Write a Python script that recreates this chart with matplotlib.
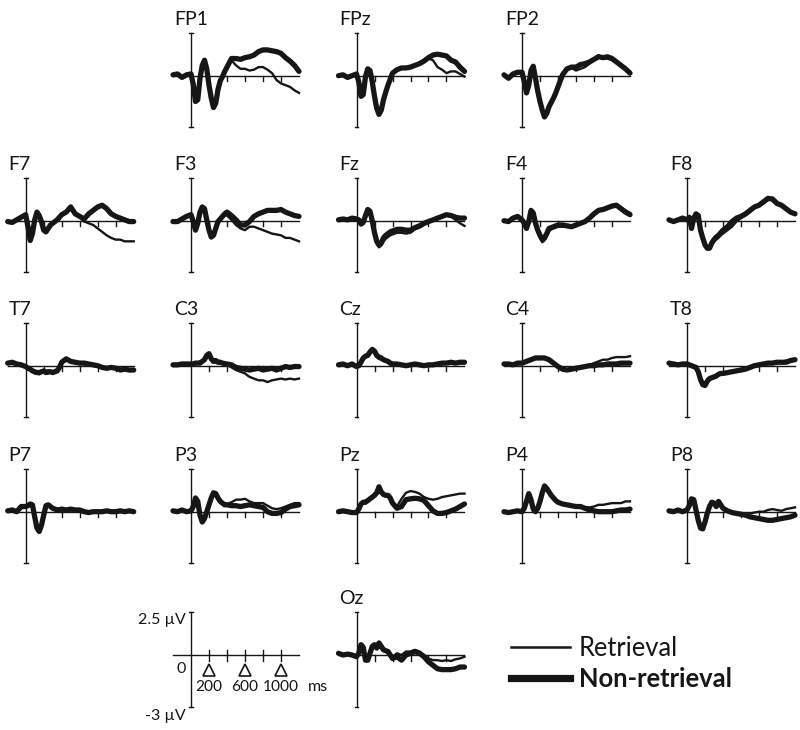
import matplotlib
matplotlib.use("Agg")
import matplotlib.pyplot as plt
from matplotlib.lines import Line2D

plt.rcParams['font.family'] = ['Lato', 'DejaVu Sans']

# ---------------- data ----------------
times = [-200, -150, -100, -50, 0, 25, 50, 75, 100, 125, 150, 175, 200, 225, 250, 275,
         300, 325, 350, 375, 400, 450, 500, 550, 600, 650, 700, 750, 800, 850, 900,
         950, 1000, 1050, 1100, 1150, 1200]

channels = ['FP1', 'FPz', 'FP2', 'F7', 'F3', 'Fz', 'F4', 'F8',
            'T7', 'C3', 'Cz', 'C4', 'T8', 'P7', 'P3', 'Pz', 'P4', 'P8', 'Oz']

FP1_ret = [0.05, 0.1, -0.1, 0.05, 0.1, -0.5, -1.5, -1.35, -0.1, 0.6, 0.85, 0.4, -0.5, -1.25, -1.8, -1.55,
           -0.8, -0.3, -0.05, 0.25, 0.5, 0.9, 0.6, 0.4, 0.4, 0.3, 0.35, 0.5, 0.5, 0.35, 0.15,
           -0.25, -0.45, -0.55, -0.65, -0.85, -1.0]
FP1_non = [0.05, 0.1, -0.1, 0.05, 0.1, -0.5, -1.5, -1.4, -0.15, 0.6, 0.9, 0.4, -0.55, -1.3, -1.85, -1.6,
           -0.8, -0.3, -0.05, 0.25, 0.5, 1.0, 1.0, 0.95, 1.05, 1.1, 1.2, 1.4, 1.5, 1.5, 1.45,
           1.4, 1.3, 1.05, 0.85, 0.6, 0.25]
FPz_ret = [0.0, 0.05, -0.1, 0.0, 0.1, -0.35, -1.15, -1.05, -0.05, 0.4, 0.3, -0.35, -1.15, -1.85, -2.2, -1.95,
           -1.4, -0.95, -0.55, -0.2, 0.15, 0.35, 0.45, 0.45, 0.5, 0.6, 0.7, 0.85, 1.0, 0.9, 0.5,
           0.35, 0.15, 0.25, 0.25, 0.1, -0.05]
FPz_non = [0.0, 0.05, -0.1, 0.0, 0.1, -0.35, -1.2, -1.1, -0.05, 0.4, 0.3, -0.35, -1.2, -1.9, -2.25, -2.0,
           -1.4, -0.95, -0.55, -0.2, 0.15, 0.35, 0.45, 0.45, 0.5, 0.6, 0.7, 0.85, 1.05, 1.2, 1.25,
           1.2, 1.15, 0.9, 0.8, 0.5, 0.25]
FP2_ret = [0.05, -0.15, 0.1, 0.2, 0.2, -0.35, -1.0, -0.55, 0.3, 0.55, -0.15, -0.9, -1.5, -2.0, -2.35, -2.2,
           -1.8, -1.55, -1.3, -1.0, -0.65, 0.05, 0.4, 0.45, 0.3, 0.4, 0.5, 0.7, 1.0, 1.2, 1.0,
           1.0, 0.9, 0.85, 0.65, 0.45, 0.2]
FP2_non = [0.05, -0.15, 0.1, 0.2, 0.2, -0.35, -1.0, -0.55, 0.3, 0.55, -0.15, -0.9, -1.5, -2.0, -2.4, -2.2,
           -1.8, -1.55, -1.3, -1.0, -0.65, 0.05, 0.4, 0.5, 0.5, 0.65, 0.7, 0.8, 0.95, 1.1, 1.05,
           1.1, 1.0, 0.8, 0.6, 0.4, 0.15]
F7_ret = [-0.05, -0.1, 0.05, 0.2, 0.35, -0.35, -1.1, -0.75, 0.05, 0.5, 0.3, -0.05, -0.55, -0.65, -0.45, -0.25,
          -0.15, -0.05, 0.05, 0.2, 0.35, 0.5, 0.75, 0.4, 0.25, -0.05, -0.15, -0.25, -0.45, -0.65, -0.85,
          -1.0, -1.1, -1.1, -1.2, -1.2, -1.2]
F7_non = [-0.05, -0.1, 0.05, 0.2, 0.35, -0.35, -1.15, -0.75, 0.05, 0.5, 0.3, -0.05, -0.55, -0.65, -0.45, -0.25,
          -0.15, -0.05, 0.05, 0.2, 0.35, 0.5, 0.8, 0.4, 0.25, 0.1, 0.4, 0.6, 0.8, 0.9, 0.7,
          0.4, 0.25, 0.15, 0.05, -0.05, -0.05]
F3_ret = [-0.05, -0.05, 0.1, 0.25, 0.35, -0.05, -0.55, -0.15, 0.5, 0.8, 0.7, 0.05, -0.55, -0.95, -0.85, -0.45,
          -0.05, 0.1, 0.2, 0.3, 0.3, 0.05, -0.25, -0.45, -0.55, -0.35, -0.35, -0.45, -0.55, -0.65, -0.75,
          -0.8, -0.85, -1.0, -1.0, -1.1, -1.2]
F3_non = [-0.05, -0.05, 0.1, 0.25, 0.35, -0.05, -0.55, -0.15, 0.5, 0.8, 0.7, 0.05, -0.55, -0.95, -0.85, -0.45,
          -0.05, 0.1, 0.25, 0.4, 0.5, 0.3, 0.05, -0.25, -0.25, -0.05, 0.25, 0.4, 0.5, 0.6, 0.6,
          0.6, 0.65, 0.5, 0.4, 0.3, 0.25]
Fz_ret = [0.05, 0.1, 0.05, 0.15, 0.1, 0.05, -0.2, -0.1, 0.3, 0.65, 0.55, 0.0, -0.75, -1.35, -1.55, -1.45,
          -1.2, -1.05, -0.95, -0.85, -0.8, -0.7, -0.7, -0.75, -0.7, -0.5, -0.4, -0.25, -0.1, 0.0, 0.1,
          0.2, 0.3, 0.25, 0.05, -0.15, -0.3]
Fz_non = [0.05, 0.1, 0.05, 0.15, 0.1, 0.05, -0.2, -0.1, 0.3, 0.65, 0.55, 0.0, -0.7, -1.2, -1.4, -1.3,
          -1.0, -0.85, -0.75, -0.65, -0.6, -0.5, -0.5, -0.55, -0.55, -0.4, -0.3, -0.15, -0.05, 0.05, 0.15,
          0.25, 0.35, 0.3, 0.2, 0.15, 0.15]
F4_ret = [0.0, -0.05, 0.15, 0.25, 0.05, -0.15, -0.45, -0.05, 0.6, 0.45, -0.15, -0.6, -0.95, -1.25, -1.15, -0.9,
          -0.6, -0.5, -0.45, -0.4, -0.35, -0.35, -0.35, -0.4, -0.3, -0.2, -0.1, 0.1, 0.35, 0.55, 0.6,
          0.7, 0.8, 0.85, 0.75, 0.6, 0.45]
F4_non = [0.0, -0.05, 0.15, 0.25, 0.05, -0.15, -0.45, -0.05, 0.6, 0.45, -0.15, -0.55, -0.85, -1.1, -1.0, -0.75,
          -0.45, -0.4, -0.35, -0.3, -0.25, -0.25, -0.3, -0.35, -0.25, -0.15, -0.05, 0.15, 0.4, 0.6, 0.65,
          0.75, 0.85, 0.9, 0.7, 0.5, 0.35]
F8_ret = [0.05, -0.05, 0.05, 0.15, 0.05, 0.2, -0.45, 0.15, 0.4, 0.3, -0.55, -1.0, -1.45, -1.65, -1.65, -1.4,
          -1.2, -1.1, -1.0, -0.85, -0.75, -0.55, -0.35, -0.05, 0.15, 0.3, 0.5, 0.75, 0.9, 1.0, 1.2,
          1.35, 1.1, 0.85, 0.75, 0.55, 0.35]
F8_non = [0.05, -0.05, 0.05, 0.15, 0.05, 0.2, -0.45, 0.15, 0.4, 0.3, -0.55, -1.0, -1.4, -1.6, -1.6, -1.3,
          -1.1, -0.95, -0.85, -0.7, -0.55, -0.35, -0.05, 0.15, 0.25, 0.4, 0.6, 0.8, 0.9, 1.1, 1.3,
          1.25, 1.0, 0.9, 0.7, 0.5, 0.4]
T7_ret = [0.15, 0.2, 0.1, 0.05, -0.05, -0.2, -0.25, -0.35, -0.45, -0.45, -0.5, -0.4, -0.4, -0.45, -0.45, -0.4,
          -0.45, -0.4, -0.35, -0.15, 0.15, 0.3, 0.25, 0.15, 0.1, 0.15, 0.05, 0.0, -0.05, -0.1, -0.2,
          -0.15, -0.2, -0.25, -0.25, -0.3, -0.3]
T7_non = [0.15, 0.2, 0.1, 0.05, -0.05, -0.15, -0.2, -0.3, -0.35, -0.4, -0.4, -0.35, -0.3, -0.4, -0.35, -0.35,
          -0.4, -0.35, -0.3, -0.1, 0.2, 0.4, 0.25, 0.2, 0.15, 0.15, 0.1, 0.05, 0.0, -0.1, -0.15,
          -0.1, -0.15, -0.25, -0.2, -0.25, -0.25]
C3_ret = [0.05, 0.05, 0.1, 0.1, 0.1, 0.1, 0.15, 0.15, 0.15, 0.2, 0.3, 0.5, 0.6, 0.35, 0.25, 0.25,
          0.2, 0.15, 0.15, 0.1, 0.05, -0.1, -0.25, -0.35, -0.45, -0.65, -0.75, -0.85, -0.85, -0.95, -0.85,
          -0.8, -0.75, -0.8, -0.75, -0.8, -0.75]
C3_non = [0.05, 0.05, 0.1, 0.1, 0.1, 0.1, 0.15, 0.15, 0.15, 0.25, 0.35, 0.6, 0.7, 0.4, 0.25, 0.3,
          0.2, 0.2, 0.15, 0.12, 0.1, 0.05, -0.1, -0.15, -0.2, -0.25, -0.2, -0.15, -0.25, -0.2, -0.15,
          -0.25, -0.15, -0.05, -0.1, -0.05, -0.05]
Cz_ret = [0.05, 0.1, 0.0, 0.1, -0.05, 0.0, 0.15, 0.4, 0.5, 0.55, 0.7, 0.85, 0.75, 0.5, 0.4, 0.35,
          0.3, 0.25, 0.2, 0.1, 0.05, 0.05, 0.0, 0.0, 0.0, 0.05, 0.05, 0.0, 0.0, 0.05, 0.1,
          0.1, 0.15, 0.15, 0.15, 0.2, 0.2]
Cz_non = [0.05, 0.1, 0.0, 0.1, -0.05, 0.0, 0.2, 0.45, 0.55, 0.6, 0.8, 0.95, 0.85, 0.6, 0.5, 0.45,
          0.35, 0.3, 0.25, 0.15, 0.1, 0.1, 0.05, 0.0, 0.05, 0.1, 0.05, 0.0, 0.05, 0.05, 0.1,
          0.15, 0.15, 0.2, 0.15, 0.2, 0.2]
C4_ret = [0.1, 0.1, 0.05, 0.15, 0.15, 0.2, 0.25, 0.3, 0.35, 0.4, 0.4, 0.45, 0.45, 0.4, 0.4, 0.35,
          0.3, 0.2, 0.1, 0.0, -0.1, -0.25, -0.3, -0.25, -0.2, -0.1, 0.0, 0.05, 0.15, 0.25, 0.35,
          0.35, 0.45, 0.5, 0.5, 0.5, 0.55]
C4_non = [0.1, 0.1, 0.05, 0.15, 0.15, 0.2, 0.25, 0.3, 0.35, 0.4, 0.45, 0.45, 0.45, 0.45, 0.45, 0.4,
          0.35, 0.25, 0.15, 0.05, -0.05, -0.2, -0.25, -0.2, -0.15, -0.1, -0.05, 0.0, 0.0, 0.05, 0.05,
          0.1, 0.1, 0.1, 0.15, 0.15, 0.15]
T8_ret = [0.15, 0.1, 0.05, 0.1, 0.1, 0.05, 0.0, -0.05, -0.1, -0.35, -0.75, -1.05, -1.1, -0.9, -0.8, -0.75,
          -0.7, -0.65, -0.55, -0.5, -0.5, -0.45, -0.4, -0.35, -0.3, -0.25, -0.15, -0.05, 0.0, 0.1, 0.15,
          0.15, 0.25, 0.2, 0.3, 0.3, 0.35]
T8_non = [0.15, 0.1, 0.05, 0.1, 0.1, 0.05, 0.0, -0.05, -0.1, -0.35, -0.8, -1.1, -1.15, -0.9, -0.75, -0.7,
          -0.65, -0.6, -0.5, -0.45, -0.45, -0.4, -0.35, -0.3, -0.25, -0.2, -0.1, 0.0, 0.05, 0.1, 0.15,
          0.15, 0.2, 0.2, 0.2, 0.3, 0.35]
P7_ret = [0.05, 0.1, 0.0, 0.3, 0.3, 0.35, 0.45, 0.35, -0.3, -0.9, -1.1, -0.75, -0.2, 0.3, 0.4, 0.3,
          0.25, 0.15, 0.1, 0.1, 0.15, 0.1, 0.1, 0.05, 0.05, 0.0, 0.0, -0.05, 0.0, 0.05, 0.0,
          0.0, -0.05, 0.0, 0.05, 0.0, 0.05]
P7_non = [0.05, 0.1, 0.0, 0.3, 0.3, 0.35, 0.45, 0.4, -0.3, -0.95, -1.15, -0.8, -0.2, 0.35, 0.4, 0.3,
          0.2, 0.15, 0.1, 0.12, 0.15, 0.1, 0.15, 0.1, 0.1, 0.0, -0.05, 0.0, 0.0, 0.0, 0.05,
          0.0, 0.0, 0.05, 0.0, 0.05, 0.0]
P3_ret = [0.05, 0.0, 0.1, 0.0, 0.05, 0.3, 0.75, 0.6, -0.2, -0.55, -0.35, 0.0, 0.4, 0.75, 1.05, 1.0,
          0.8, 0.6, 0.5, 0.45, 0.45, 0.55, 0.7, 0.7, 0.75, 0.6, 0.5, 0.5, 0.5, 0.35, 0.2,
          0.15, 0.2, 0.3, 0.4, 0.5, 0.5]
P3_non = [0.05, 0.0, 0.1, 0.0, 0.05, 0.3, 0.8, 0.6, -0.2, -0.6, -0.4, 0.0, 0.4, 0.8, 1.1, 1.05,
          0.8, 0.6, 0.5, 0.4, 0.4, 0.35, 0.35, 0.3, 0.35, 0.4, 0.35, 0.3, 0.25, 0.0, -0.1,
          -0.1, -0.05, 0.15, 0.3, 0.35, 0.4]
Pz_ret = [0.0, 0.05, 0.0, -0.05, -0.05, 0.15, 0.4, 0.5, 0.5, 0.6, 0.7, 0.8, 0.9, 1.05, 1.4, 1.1,
          0.95, 0.9, 0.9, 0.75, 0.55, 0.3, 0.75, 1.1, 1.2, 1.15, 1.05, 0.85, 0.75, 0.7, 0.75,
          0.85, 0.9, 0.95, 1.0, 1.05, 1.05]
Pz_non = [0.0, 0.05, 0.0, -0.05, -0.05, 0.15, 0.45, 0.55, 0.55, 0.65, 0.75, 0.85, 0.95, 1.1, 1.45, 1.15,
          1.0, 0.95, 0.95, 0.8, 0.5, 0.2, 0.3, 0.7, 0.75, 0.78, 0.75, 0.65, 0.35, 0.05, -0.1,
          -0.1, -0.05, 0.05, 0.15, 0.3, 0.45]
P4_ret = [0.0, -0.05, 0.0, 0.05, 0.0, 0.2, 0.6, 1.0, 0.7, 0.15, 0.0, 0.2, 0.6, 1.05, 1.45, 1.3,
          1.1, 0.9, 0.75, 0.65, 0.55, 0.45, 0.4, 0.35, 0.3, 0.3, 0.25, 0.25, 0.3, 0.4, 0.4,
          0.45, 0.5, 0.5, 0.5, 0.6, 0.6]
P4_non = [0.0, -0.05, 0.0, 0.05, 0.0, 0.2, 0.6, 1.05, 0.7, 0.15, 0.0, 0.2, 0.6, 1.1, 1.5, 1.35,
          1.15, 0.95, 0.8, 0.65, 0.55, 0.45, 0.4, 0.35, 0.3, 0.3, 0.2, 0.1, 0.05, 0.0, 0.0,
          0.0, 0.0, 0.05, 0.1, 0.1, 0.15]
P8_ret = [0.05, 0.0, 0.1, 0.0, 0.1, 0.35, 0.75, 0.65, 0.1, -0.45, -0.9, -0.95, -0.6, -0.1, 0.3, 0.5,
          0.45, 0.3, 0.55, 0.4, 0.2, 0.1, 0.0, -0.05, -0.1, -0.1, -0.1, -0.05, 0.0, 0.0, 0.1,
          0.15, 0.1, 0.05, 0.15, 0.2, 0.25]
P8_non = [0.05, 0.0, 0.1, 0.0, 0.1, 0.35, 0.75, 0.7, 0.1, -0.5, -0.95, -1.0, -0.6, -0.1, 0.3, 0.55,
          0.5, 0.3, 0.6, 0.4, 0.2, 0.05, -0.05, -0.1, -0.15, -0.2, -0.3, -0.35, -0.4, -0.45, -0.5,
          -0.5, -0.45, -0.4, -0.35, -0.3, -0.2]
Oz_ret = [0.1, 0.0, 0.05, 0.0, -0.1, 0.1, 0.6, 0.4, -0.25, -0.3, 0.1, 0.45, 0.55, 0.4, 0.65, 0.5,
          0.3, 0.2, 0.1, 0.0, -0.1, 0.1, 0.0, 0.2, 0.2, 0.3, 0.2, 0.0, -0.2, -0.3, -0.3,
          -0.35, -0.3, -0.35, -0.25, -0.2, -0.1]
Oz_non = [0.1, 0.0, 0.05, 0.0, -0.1, 0.1, 0.6, 0.45, -0.3, -0.3, 0.1, 0.5, 0.6, 0.4, 0.7, 0.5,
          0.3, 0.25, 0.2, 0.0, -0.2, -0.1, -0.3, 0.0, 0.1, 0.2, 0.1, -0.1, -0.4, -0.6, -0.8,
          -0.85, -0.85, -0.85, -0.8, -0.7, -0.7]

retrieval = [FP1_ret, FPz_ret, FP2_ret, F7_ret, F3_ret, Fz_ret, F4_ret, F8_ret,
             T7_ret, C3_ret, Cz_ret, C4_ret, T8_ret, P7_ret, P3_ret, Pz_ret, P4_ret, P8_ret, Oz_ret]
nonretrieval = [FP1_non, FPz_non, FP2_non, F7_non, F3_non, Fz_non, F4_non, F8_non,
                T7_non, C3_non, Cz_non, C4_non, T8_non, P7_non, P3_non, Pz_non, P4_non, P8_non, Oz_non]

axis_ticks = [200, 400, 600, 800, 1000]
scale_labels = [200, 600, 1000]
legend_labels = ['Retrieval', 'Non-retrieval']

# ---------------- layout ----------------
W, H = 800, 730
PX_MS, PX_UV = 0.09, 17.2
T0, T1 = -200, 1200
V0, V1 = -3.0, 2.5
col_x = [25.7, 191, 356.5, 522, 687]
row_y = [75.7, 220.7, 365.7, 511.7, 655]
cells = [(0, 1), (0, 2), (0, 3), (1, 0), (1, 1), (1, 2), (1, 3), (1, 4),
         (2, 0), (2, 1), (2, 2), (2, 3), (2, 4), (3, 0), (3, 1), (3, 2), (3, 3), (3, 4), (4, 2)]
INK = '#161616'

fig = plt.figure(figsize=(W / 100, H / 100), dpi=100)


def make_axes(r, c):
    x0, y0 = col_x[c], row_y[r]
    left = (x0 + T0 * PX_MS) / W
    width = (T1 - T0) * PX_MS / W
    bottom = (H - (y0 - V0 * PX_UV)) / H
    height = (V1 - V0) * PX_UV / H
    ax = fig.add_axes([left, bottom, width, height])
    ax.set_xlim(T0, T1)
    ax.set_ylim(V0, V1)
    ax.axis('off')
    return ax


def draw_frame(ax, both_sides):
    ax.plot([T0, T1], [0, 0], color=INK, lw=1.0, clip_on=False, zorder=1)
    ax.plot([0, 0], [V0, V1], color=INK, lw=1.0, clip_on=False, zorder=1)
    for yv in (V0, V1):
        ax.plot([-22, 22], [yv, yv], color=INK, lw=1.0, clip_on=False)
    top = 0.3 if both_sides else 0.0
    for t in axis_ticks:
        ax.plot([t, t], [-0.33, top], color=INK, lw=1.0, clip_on=False, zorder=1)


for name, (r, c), ret, non in zip(channels, cells, retrieval, nonretrieval):
    ax = make_axes(r, c)
    draw_frame(ax, False)
    ax.plot(times, non, color=INK, lw=3.8, solid_joinstyle='round', solid_capstyle='round',
            clip_on=False, zorder=3)
    ax.plot(times, ret, color=INK, lw=1.7, solid_joinstyle='round', clip_on=False, zorder=4)
    x0, y0 = col_x[c], row_y[r]
    fig.text((x0 - 17) / W, 1 - (y0 - 51) / H, name, fontsize=14, ha='left',
             va='baseline', color=INK)

# scale panel
sax = make_axes(4, 1)
draw_frame(sax, True)
sax.plot(scale_labels, [-0.85] * len(scale_labels), linestyle='none', marker='^',
         markersize=9, markerfacecolor='white', markeredgecolor=INK, markeredgewidth=1.2,
         clip_on=False)
for t in scale_labels:
    sax.text(t, -1.85, str(t), ha='center', va='center', fontsize=11.2, color=INK)
sax.text(1410, -1.85, 'ms', ha='center', va='center', fontsize=11.5, color=INK)
sax.text(-105, -0.8, '0', ha='center', va='center', fontsize=11.5, color=INK)
sax.text(-55, 2.05, '2.5 \u00b5V', ha='right', va='center', fontsize=11.5, color=INK)
sax.text(-55, -3.55, '-3 \u00b5V', ha='right', va='center', fontsize=11.5, color=INK)

# legend
handles = [Line2D([], [], color=INK, lw=1.8), Line2D([], [], color=INK, lw=5.2)]
leg = fig.legend(handles, legend_labels, loc='upper left',
                 bbox_to_anchor=(511 / W, 1 - 636 / H), frameon=False,
                 fontsize=18.4, handlelength=2.3, handletextpad=0.35, labelspacing=0.22,
                 borderaxespad=0, borderpad=0)
for txt in leg.get_texts():
    txt.set_color(INK)
leg.get_texts()[1].set_fontweight('bold')

fig.savefig('out.png', dpi=100)
